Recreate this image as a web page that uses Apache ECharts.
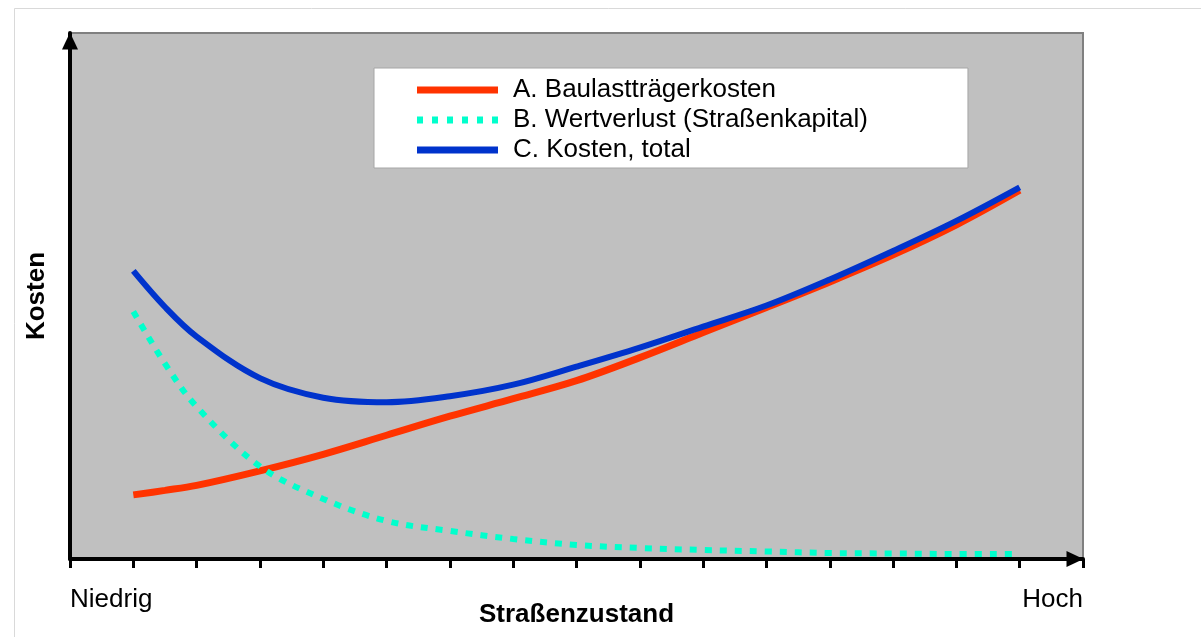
<!DOCTYPE html>
<html>
<head>
<meta charset="utf-8">
<title>Kosten / Straßenzustand</title>
<script src="https://cdn.jsdelivr.net/npm/echarts@6/dist/echarts.min.js"></script>
<style>
  html, body { margin: 0; padding: 0; background: #fff; }
  #main { width: 1201px; height: 637px; }
</style>
</head>
<body>
<div id="main"></div>
<script>
// Straßenzustand (x), 1 = niedrig ... 15 = hoch
const xValues = [1, 1.5, 2, 3, 4, 5, 6, 7, 8, 9, 10, 11, 12, 13, 14, 15];
const baulast = [12.8, 13.7, 14.7, 17.6, 20.9, 24.7, 28.5, 32.0, 35.6, 40.2, 45.2, 50.2, 55.3, 60.7, 66.7, 73.6];
const wertverlust = [49.4, 39, 30.4, 18.5, 12, 7.6, 5.6, 4, 2.8, 2.2, 1.8, 1.5, 1.2, 1.1, 1.0, 1.0];
const total = [57.5, 50.3, 44.4, 36.1, 32.2, 31.3, 32.5, 34.8, 38.4, 42.2, 46.4, 50.6, 55.8, 61.5, 67.5, 74.2];

const seriesNames = ['A. Baulastträgerkosten', 'B. Wertverlust (Straßenkapital)', 'C. Kosten, total'];
const xTickLabels = {0: 'Niedrig', 16: 'Hoch'};

const toPairs = (ys) => xValues.map((x, i) => [x, ys[i]]);

const font = 'Arial, "Liberation Sans", sans-serif';
// gepunktete Linie fürs Legendensymbol
const dotIcon = 'path://M0,0h6v7h-6z M15,0h6v7h-6z M30,0h6v7h-6z M45,0h6v7h-6z M60,0h6v7h-6z M75,0h6v7h-6z';

const myChart = echarts.init(document.getElementById('main'));
const option = {
    backgroundColor: '#fff',
    animation: false,
    textStyle: {fontFamily: font},
    graphic: [
        {
            type: 'rect',
            shape: {x: 14.5, y: 8.5, width: 1260, height: 700},
            style: {fill: 'none', stroke: '#d9d9d9', lineWidth: 1},
            z: -10
        }
    ],
    grid: {
        left: 70,
        right: 118,
        top: 33,
        bottom: 78,
        containLabel: false,
        outerBoundsMode: 'none',
        show: true,
        backgroundColor: '#c0c0c0',
        borderColor: '#808080',
        borderWidth: 2
    },
    legend: {
        orient: 'vertical',
        left: 374,
        top: 68,
        padding: [9, 100, 5, 43],
        itemGap: 4,
        itemWidth: 81,
        itemHeight: 7,
        backgroundColor: '#fff',
        borderColor: '#a6a6a6',
        borderWidth: 1,
        textStyle: {
            fontSize: 26,
            fontFamily: font,
            color: '#000',
            padding: [0, 0, 0, 10]
        },
        data: [
            {name: seriesNames[0], icon: 'rect'},
            {name: seriesNames[1], icon: dotIcon},
            {name: seriesNames[2], icon: 'rect'}
        ]
    },
    xAxis: {
        type: 'value',
        min: 0,
        max: 16,
        interval: 1,
        name: 'Straßenzustand',
        nameLocation: 'middle',
        nameGap: 43,
        nameMoveOverlap: false,
        nameTextStyle: {fontSize: 26, fontWeight: 'bold', color: '#000', fontFamily: font},
        splitLine: {show: false},
        axisLine: {
            lineStyle: {color: '#000', width: 4},
            symbol: ['none', 'triangle'],
            symbolSize: [16, 17],
            symbolOffset: [0, -8]
        },
        axisTick: {show: true, inside: false, length: 9, lineStyle: {color: '#000', width: 3}},
        axisLabel: {
            show: true,
            margin: 28,
            fontSize: 26,
            color: '#000',
            fontFamily: font,
            showMinLabel: true,
            showMaxLabel: true,
            alignMinLabel: 'left',
            alignMaxLabel: 'right',
            formatter: (v) => xTickLabels[v] || ''
        }
    },
    yAxis: {
        type: 'value',
        min: 0,
        max: 105,
        name: 'Kosten',
        nameLocation: 'middle',
        nameGap: 20,
        nameMoveOverlap: false,
        nameTextStyle: {fontSize: 26, fontWeight: 'bold', color: '#000', fontFamily: font},
        splitLine: {show: false},
        axisTick: {show: false},
        axisLabel: {show: false},
        axisLine: {
            show: true,
            lineStyle: {color: '#000', width: 4},
            symbol: ['none', 'triangle'],
            symbolSize: [16, 17],
            symbolOffset: [0, -8]
        }
    },
    series: [
        {
            name: seriesNames[0],
            type: 'line',
            smooth: 0.35,
            symbol: 'none',
            lineStyle: {color: '#ff3300', width: 7},
            itemStyle: {color: '#ff3300'},
            data: toPairs(baulast)
        },
        {
            name: seriesNames[1],
            type: 'line',
            smooth: 0.35,
            symbol: 'none',
            lineStyle: {color: '#00ffcc', width: 6, type: [7, 8]},
            itemStyle: {color: '#00ffcc'},
            data: toPairs(wertverlust)
        },
        {
            name: seriesNames[2],
            type: 'line',
            smooth: 0.35,
            symbol: 'none',
            lineStyle: {color: '#0033cc', width: 6},
            itemStyle: {color: '#0033cc'},
            data: toPairs(total)
        }
    ]
};
myChart.setOption(option);
</script>
</body>
</html>
